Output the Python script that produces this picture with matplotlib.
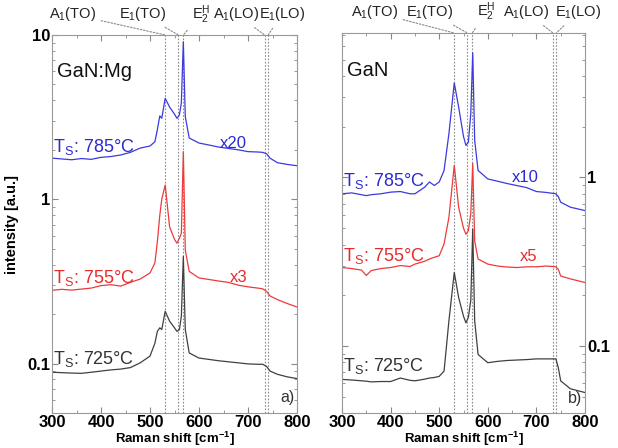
import numpy as np
import matplotlib
matplotlib.use("Agg")
import matplotlib.pyplot as plt
from matplotlib.ticker import FixedLocator, FixedFormatter, MultipleLocator, LogLocator, NullFormatter

plt.rcParams['font.family'] = ['Liberation Sans', 'DejaVu Sans']
plt.rcParams['font.weight'] = 'bold'
plt.rcParams['mathtext.default'] = 'regular'

# ---- data (Raman shift in cm^-1, intensity in a.u.) ----
# panel a) GaN:Mg
mg_x = [300, 320, 340, 360, 380, 400, 420, 440, 460, 480, 500, 510, 515, 520, 524,
        531, 540, 550, 555, 560, 564, 568, 572, 580, 600, 620, 640, 660, 680, 700,
        720, 730, 738, 745, 760, 780, 800]
mg_785 = [1.78, 1.76, 1.74, 1.77, 1.75, 1.80, 1.82, 1.86, 1.93, 2.05, 2.11, 2.24, 2.65, 3.22, 3.11,
          4.12, 3.64, 3.30, 3.11, 3.26, 3.86, 9.1, 3.19, 2.36, 2.20, 2.14, 2.08, 2.04, 2.00, 1.95,
          1.94, 1.93, 1.89, 1.78, 1.67, 1.63, 1.60]
mg_755 = [0.279, 0.283, 0.280, 0.284, 0.288, 0.298, 0.302, 0.296, 0.312, 0.327, 0.356, 0.41, 0.55, 0.80, 1.00,
          1.22, 0.68, 0.57, 0.54, 0.58, 0.62, 1.95, 0.49, 0.364, 0.332, 0.325, 0.318, 0.312, 0.300, 0.293,
          0.288, 0.285, 0.275, 0.258, 0.245, 0.232, 0.221]
mg_725 = [0.0886, 0.0880, 0.0875, 0.0872, 0.0885, 0.090, 0.0915, 0.0925, 0.0945, 0.101, 0.111, 0.133, 0.157, 0.165, 0.161,
          0.208, 0.181, 0.165, 0.157, 0.161, 0.194, 0.449, 0.161, 0.116, 0.108, 0.106, 0.104, 0.1025, 0.101, 0.0995,
          0.099, 0.099, 0.096, 0.090, 0.086, 0.083, 0.081]

# panel b) GaN
gn_x = [300, 320, 340, 350, 360, 380, 400, 420, 440, 450, 470, 480, 490, 500, 510,
        520, 531, 540, 550, 555, 560, 565, 569, 573, 580, 600, 620, 640, 660, 680,
        700, 720, 740, 745, 750, 770, 800]
gn_785 = [0.80, 0.81, 0.79, 0.78, 0.79, 0.80, 0.818, 0.825, 0.80, 0.80, 0.875, 0.94, 0.896, 0.94, 1.10,
          1.82, 3.64, 2.62, 1.75, 1.55, 1.62, 2.39, 5.5, 1.66, 1.10, 0.98, 0.95, 0.92, 0.895, 0.87,
          0.825, 0.815, 0.80, 0.77, 0.713, 0.666, 0.636]
gn_755 = [0.292, 0.288, 0.282, 0.262, 0.280, 0.288, 0.292, 0.300, 0.296, 0.306, 0.318, 0.328, 0.336, 0.343, 0.403,
          0.58, 1.18, 0.665, 0.50, 0.46, 0.484, 0.61, 1.21, 0.42, 0.328, 0.306, 0.298, 0.294, 0.292, 0.295,
          0.295, 0.298, 0.295, 0.285, 0.260, 0.250, 0.238]
gn_725 = [0.0633, 0.0628, 0.0621, 0.0618, 0.0612, 0.0615, 0.0615, 0.0645, 0.0625, 0.0621, 0.0635, 0.0645, 0.0650, 0.066, 0.0709,
          0.141, 0.273, 0.194, 0.150, 0.137, 0.148, 0.186, 0.495, 0.141, 0.089, 0.0795, 0.081, 0.082, 0.0825, 0.083,
          0.0838, 0.0838, 0.0838, 0.0745, 0.062, 0.0557, 0.0529]

# phonon modes
mode_pos = [531, 558, 568, 734, 741]
mode_lab = [r'A$_1$(TO)', r'E$_1$(TO)', r'E$_2^{H}$', r'A$_1$(LO)', r'E$_1$(LO)']
mode_lab_x_a = [341, 484, 604, 676, 770]
mode_lab_x_b = [366, 481, 597, 679, 786]

c_blue = '#3a3ae0'
c_red = '#ee3a3a'
c_blk = '#404040'

fig = plt.figure(figsize=(6.18, 4.48), dpi=100)
ax1 = fig.add_axes([52/618, 35/448, 245/618, 378/448])
ax2 = fig.add_axes([342/618, 35/448, 243/618, 380/448])


def style(ax, ylim, ticks, side):
    ax.set_yscale('log')
    ax.set_xlim(300, 800)
    ax.set_ylim(*ylim)
    ax.xaxis.set_major_locator(MultipleLocator(100))
    ax.xaxis.set_minor_locator(MultipleLocator(50))
    ax.yaxis.set_major_locator(FixedLocator(ticks))
    ax.yaxis.set_major_formatter(FixedFormatter([('%g' % t) for t in ticks]))
    ax.yaxis.set_minor_locator(LogLocator(subs=np.arange(2, 10)))
    ax.yaxis.set_minor_formatter(NullFormatter())
    ax.tick_params(which='both', direction='in', top=True, right=True, left=True,
                   labelsize=12, color='#888888', pad=1.5)
    ax.tick_params(which='major', length=4)
    ax.tick_params(which='minor', length=2)
    if side == 'right':
        ax.tick_params(axis='y', labelleft=False, labelright=True)
    for sp in ax.spines.values():
        sp.set_color('#999999')
        sp.set_linewidth(0.8)
    ax.set_xlabel('Raman shift [cm$^{-1}$]', fontsize=9.5, fontweight='bold', labelpad=0)


def modes(ax, lab_x):
    for p in mode_pos:
        ax.axvline(p, color='#8a8a8a', ls=(0, (1.5, 1.5)), lw=0.8, zorder=0)
    tr = ax.get_xaxis_transform()
    for p, lab, lx in zip(mode_pos, mode_lab, lab_x):
        ax.annotate(lab, xy=(p, 1.0), xycoords=tr, xytext=(lx, 1.055), textcoords=tr,
                    ha='center', va='center', fontsize=10.5, fontweight='normal', color='#222222',
                    annotation_clip=False,
                    arrowprops=dict(arrowstyle='-', ls=(0, (1.5, 1.5)), color='#8a8a8a', lw=0.8,
                                    shrinkA=2, shrinkB=0))


style(ax1, (0.05, 10), [0.1, 1, 10], 'left')
modes(ax1, mode_lab_x_a)
ax1.plot(mg_x, mg_785, color=c_blue, lw=0.9)
ax1.plot(mg_x, mg_755, color=c_red, lw=0.9)
ax1.plot(mg_x, mg_725, color=c_blk, lw=0.9)

style(ax2, (0.04, 7.2), [0.1, 1], 'right')
modes(ax2, mode_lab_x_b)
ax2.plot(gn_x, gn_785, color=c_blue, lw=0.9)
ax2.plot(gn_x, gn_755, color=c_red, lw=0.9)
ax2.plot(gn_x, gn_725, color=c_blk, lw=0.9)

kw = dict(fontweight='normal')
# annotations in panel a)
ax1.text(310, 6.0, 'GaN:Mg', fontsize=14.5, color='#111111', va='center', **kw)
ax1.text(303, 1.80, r'T$_{S}$: 785°C', fontsize=13, color='#2a2ad0', va='bottom', **kw)
ax1.text(642, 1.98, 'x20', fontsize=12, color='#2a2ad0', va='bottom', **kw)
ax1.text(303, 0.29, r'T$_{S}$: 755°C', fontsize=13, color='#e82a2a', va='bottom', **kw)
ax1.text(662, 0.30, 'x3', fontsize=12, color='#e82a2a', va='bottom', **kw)
ax1.text(303, 0.092, r'T$_{S}$: 725°C', fontsize=13, color='#333333', va='bottom', **kw)
ax1.text(795, 0.056, 'a)', fontsize=11.5, color='#333333', ha='right', va='bottom', **kw)

# annotations in panel b)
ax2.text(310, 4.3, 'GaN', fontsize=14.5, color='#111111', va='center', **kw)
ax2.text(303, 0.83, r'T$_{S}$: 785°C', fontsize=13, color='#2a2ad0', va='bottom', **kw)
ax2.text(650, 0.90, 'x10', fontsize=12, color='#2a2ad0', va='bottom', **kw)
ax2.text(303, 0.30, r'T$_{S}$: 755°C', fontsize=13, color='#e82a2a', va='bottom', **kw)
ax2.text(665, 0.305, 'x5', fontsize=12, color='#e82a2a', va='bottom', **kw)
ax2.text(303, 0.066, r'T$_{S}$: 725°C', fontsize=13, color='#333333', va='bottom', **kw)
ax2.text(795, 0.044, 'b)', fontsize=11.5, color='#333333', ha='right', va='bottom', **kw)

fig.text(12/618, 0.5, 'intensity [a.u.]', rotation=90, fontsize=10.5, fontweight='bold',
         ha='center', va='center')

fig.savefig('out.png', dpi=100)
